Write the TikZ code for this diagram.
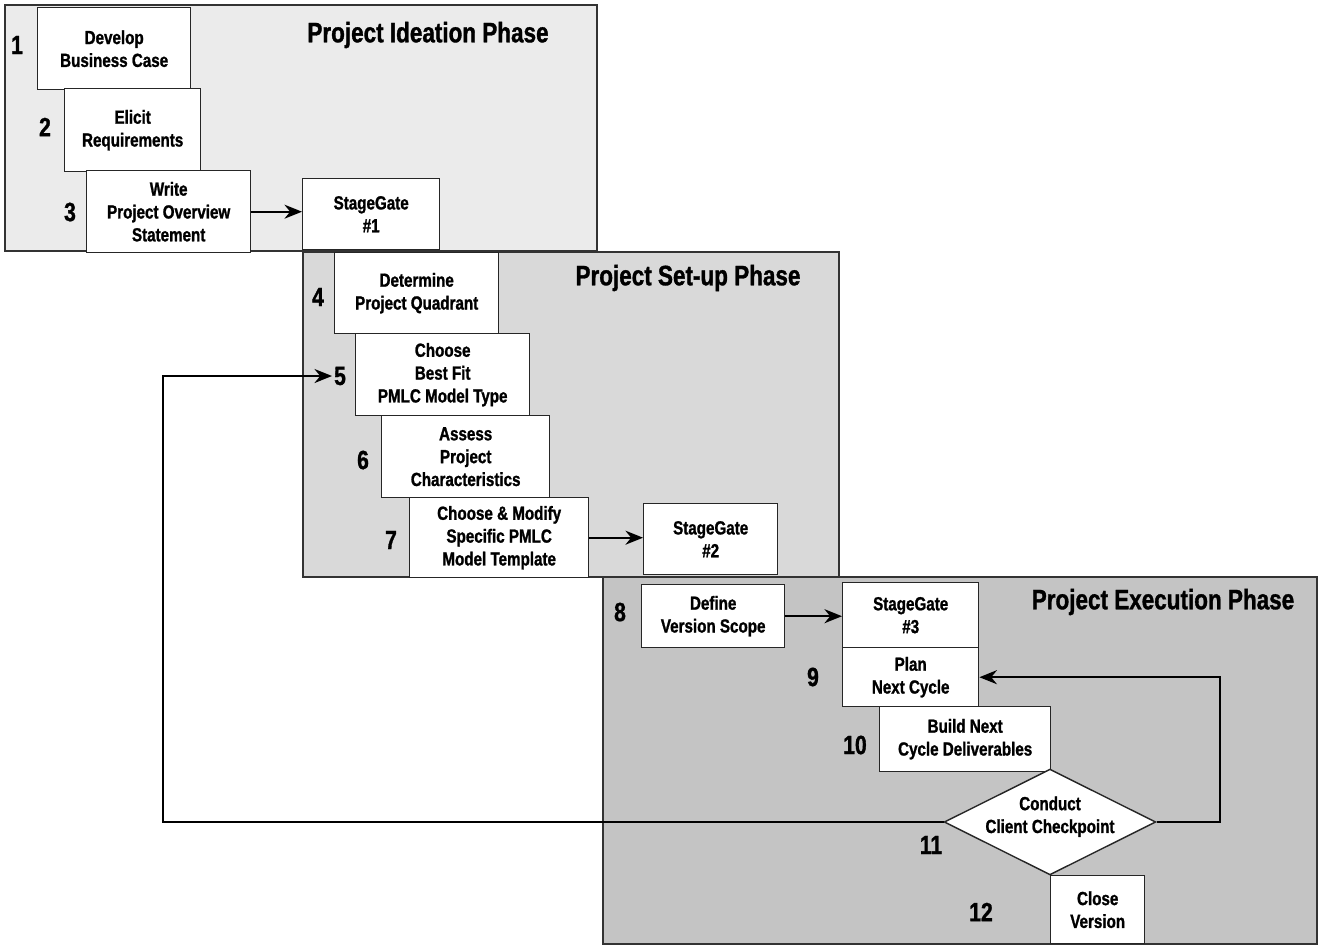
\documentclass[tikz,border=0pt]{standalone}
\usepackage{fontspec}
\setmainfont{Liberation Sans}[FakeStretch=0.8, BoldFeatures={FakeBold=1.2}]
\usetikzlibrary{arrows.meta,shapes.geometric}
\definecolor{ideationgray}{HTML}{EBEBEB}
\definecolor{setupgray}{HTML}{D9D9D9}
\definecolor{executiongray}{HTML}{C4C4C4}
\tikzset{
  panel/.style={draw=black!80, line width=0.8pt},
  task/.style={draw=black!85, fill=white, line width=0.8pt, anchor=north west,
    align=center, inner sep=0pt, font=\bfseries\fontsize{10.8}{13}\selectfont},
  stepnum/.style={inner sep=1pt, font=\bfseries\fontsize{15}{15}\selectfont},
  phasetitle/.style={inner sep=0pt, font=\bfseries\fontsize{16}{16}\selectfont},
  flow/.style={line width=1.1pt, -{Stealth[length=10pt,width=8pt]}},
}
\begin{document}
\begin{tikzpicture}[x=0.02cm,y=-0.02cm]
\useasboundingbox (0,0) rectangle (1322,948);
% phase panels
\draw[panel, fill=ideationgray] (5,5) rectangle (597,251);
\draw[panel, fill=setupgray] (303,252) rectangle (839,577);
\draw[panel, fill=executiongray] (603,577) rectangle (1317,944);
\node[phasetitle] (t1) at (428,35) {Project Ideation Phase};
\node[phasetitle] (t2) at (688,278) {Project Set-up Phase};
\node[phasetitle] (t3) at (1163,602) {Project Execution Phase};
% ideation
\node[task, minimum width=3.06cm, minimum height=1.64cm] (b1) at (37,7) {Develop\\Business Case};
\node[task, minimum width=2.72cm, minimum height=1.66cm] (b2) at (64,88) {Elicit\\Requirements};
\node[task, minimum width=3.28cm, minimum height=1.64cm] (b3) at (86,170) {Write\\Project Overview\\Statement};
\node[task, minimum width=2.74cm, minimum height=1.42cm] (sg1) at (302,178) {StageGate\\\#1};
% set-up
\node[task, minimum width=3.28cm, minimum height=1.62cm] (b4) at (334,252) {Determine\\Project Quadrant};
\node[task, minimum width=3.48cm, minimum height=1.64cm] (b5) at (355,333) {Choose\\Best Fit\\PMLC Model Type};
\node[task, minimum width=3.36cm, minimum height=1.64cm] (b6) at (381,415) {Assess\\Project\\Characteristics};
\node[task, minimum width=3.58cm, minimum height=1.60cm] (b7) at (409,497) {Choose \& Modify\\Specific PMLC\\Model Template};
\node[task, minimum width=2.68cm, minimum height=1.42cm] (sg2) at (643,503) {StageGate\\\#2};
% execution
\node[task, minimum width=2.86cm, minimum height=1.26cm] (b8) at (641,584) {Define\\Version Scope};
\node[task, minimum width=2.72cm, minimum height=1.30cm] (sg3) at (842,582) {StageGate\\\#3};
\node[task, minimum width=2.72cm, minimum height=1.18cm] (b9) at (842,647) {Plan\\Next Cycle};
\node[task, minimum width=3.42cm, minimum height=1.30cm] (b10) at (879,706) {Build Next\\Cycle Deliverables};
\node[task, shape=diamond, anchor=center, aspect=2, text height=18pt, text depth=5.5pt, minimum width=4.16cm, minimum height=2.08cm] (b11) at (1050,822) {Conduct\\Client Checkpoint};
\node[task, minimum width=1.88cm, minimum height=1.36cm] (b12) at (1050,875) {Close\\Version};
% step numbers
\node[stepnum] (n1) at (17,45) {1};
\node[stepnum] (n2) at (45,127) {2};
\node[stepnum] (n3) at (70,212) {3};
\node[stepnum] (n4) at (318,297) {4};
\node[stepnum] (n5) at (340,376) {5};
\node[stepnum] (n6) at (363,460) {6};
\node[stepnum] (n7) at (391,540) {7};
\node[stepnum] (n8) at (620,612) {8};
\node[stepnum] (n9) at (813,677) {9};
\node[stepnum] (n10) at (855,745) {10};
\node[stepnum] (n11) at (931,845) {11};
\node[stepnum] (n12) at (981,912) {12};
% connectors
\coordinate (back) at (163,822);
\coordinate (loop) at (1220,822);
\draw[flow] (b3.east) -- (b3.east -| sg1.west);
\draw[flow] (b7.east) -- (b7.east -| sg2.west);
\draw[flow] (b8.east) -- (b8.east -| sg3.west);
\draw[flow] (b11.east) -- (loop) |- (b9.east);
\draw[flow] (b11.west) -- (back) |- (n5.west);
\end{tikzpicture}
\end{document}
